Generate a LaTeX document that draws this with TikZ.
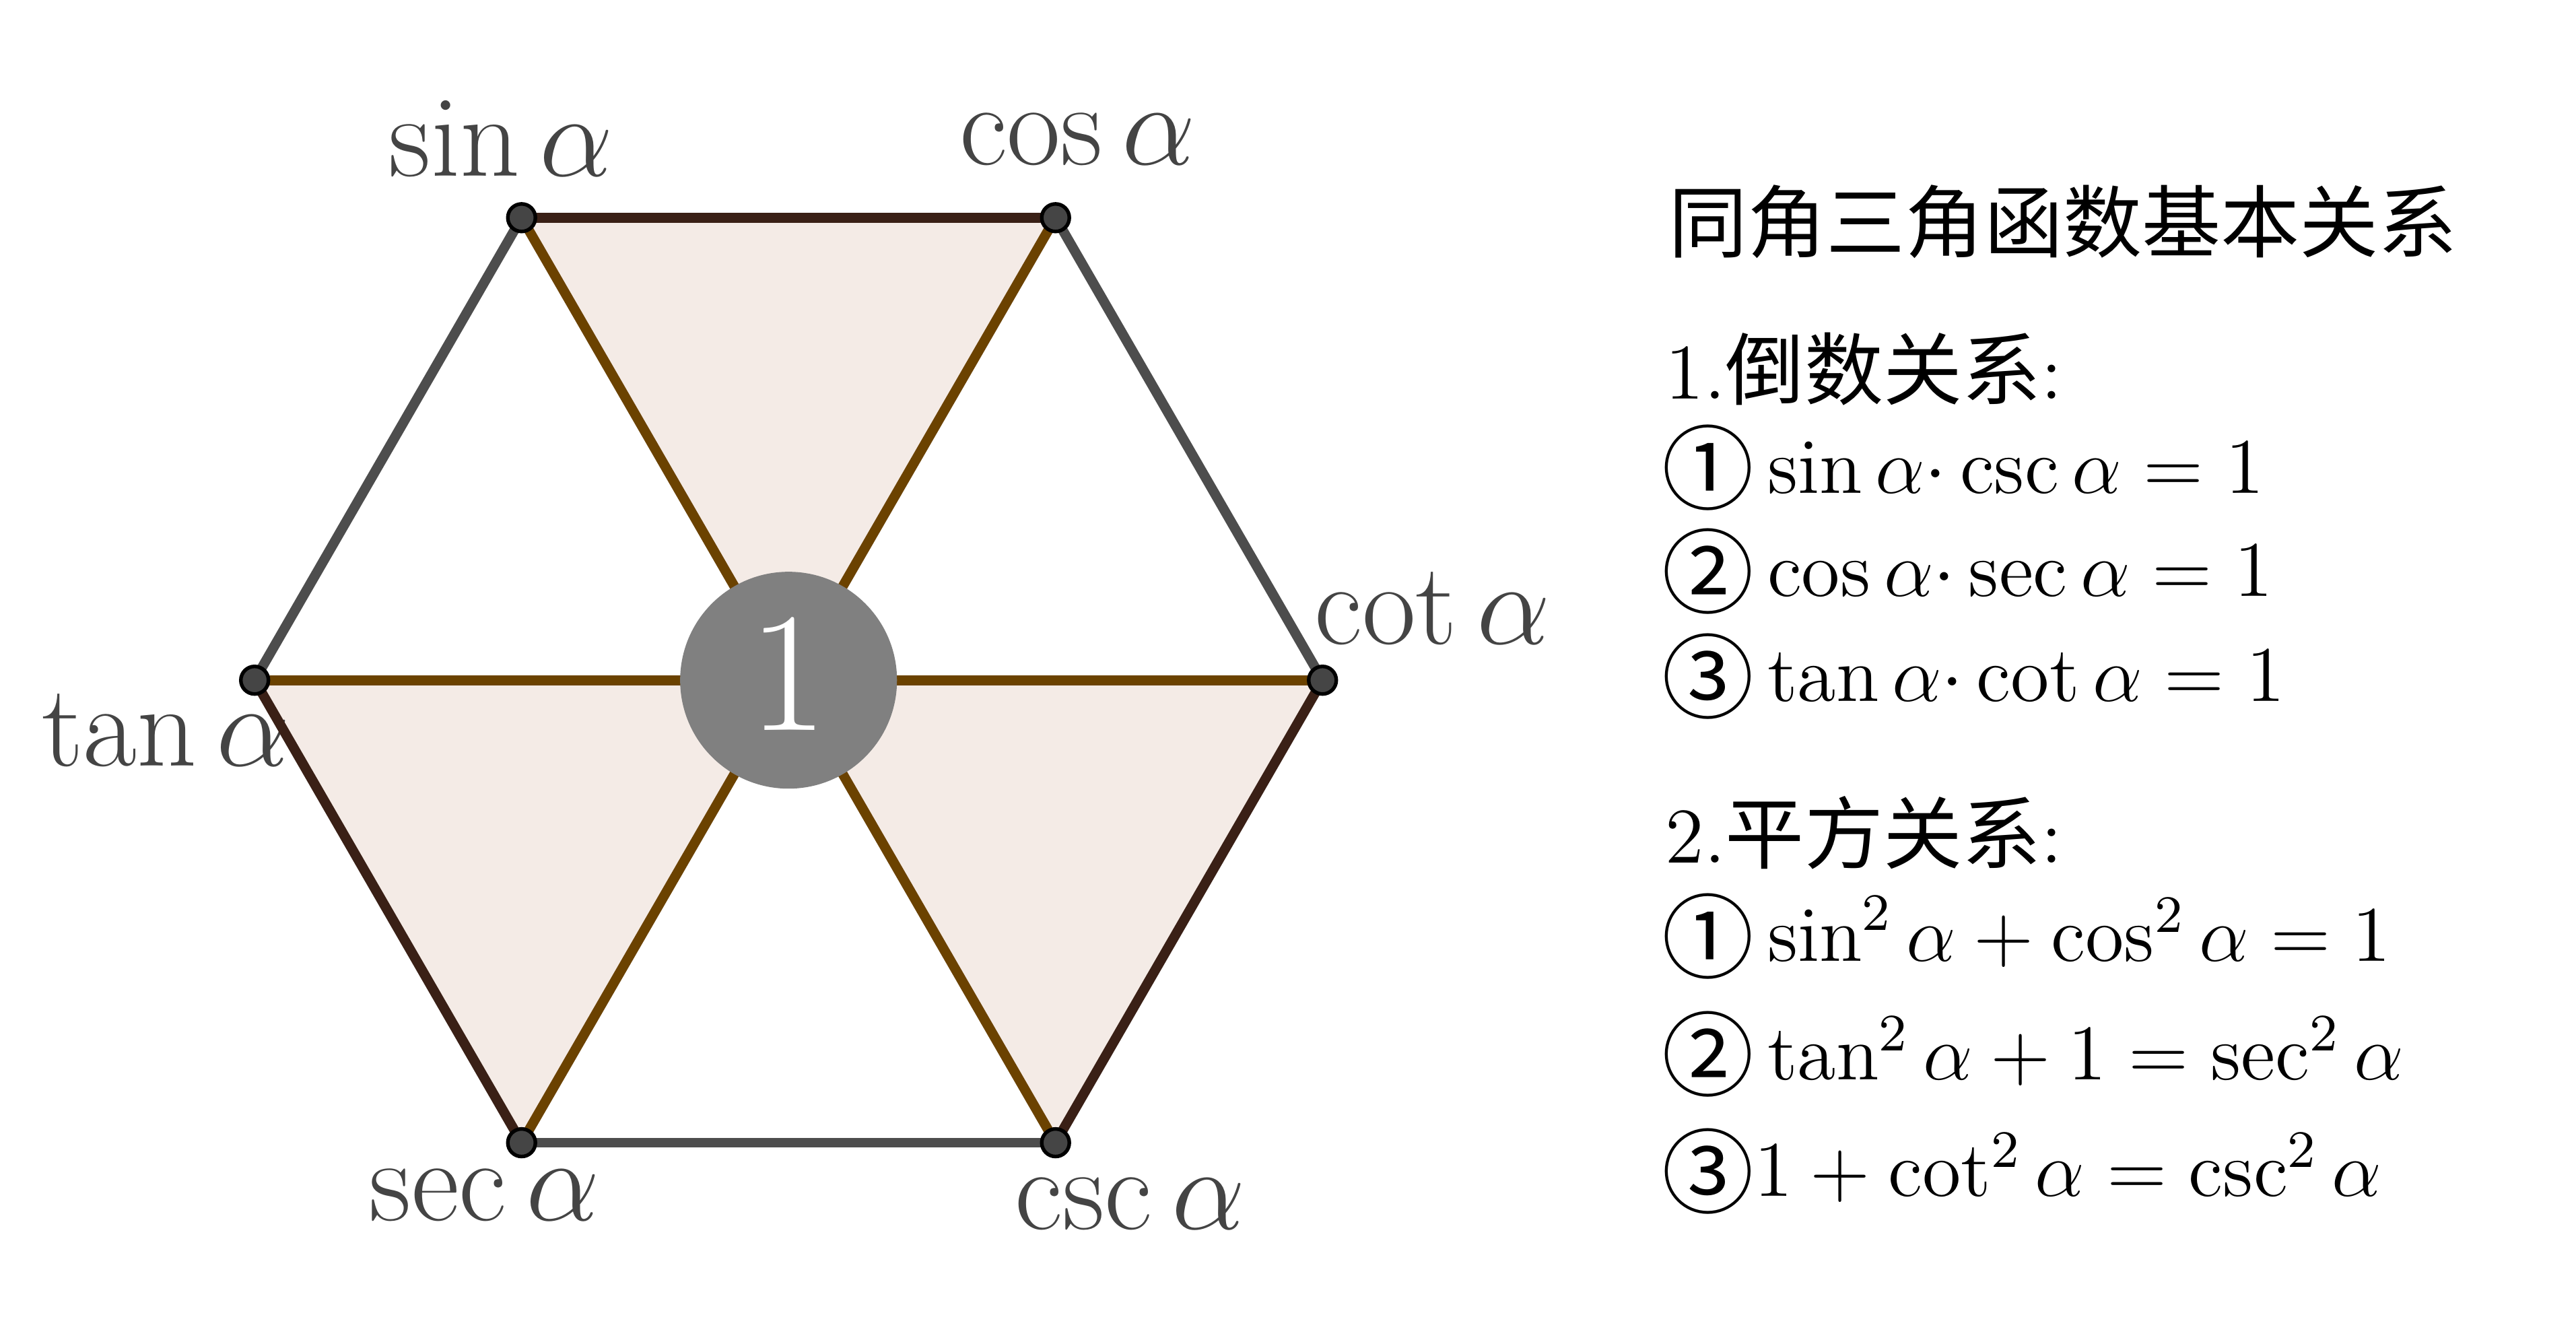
\RequirePackage{fix-cm}
\documentclass[tikz,border=0pt]{standalone}
\usepackage{amsmath}
\usepackage{fontspec}
\newfontfamily\cjk{Noto Sans CJK SC}
\usetikzlibrary{positioning}
\usepackage{xcolor}

\definecolor{triFill}{HTML}{F4EBE6}
\definecolor{spoke}{HTML}{6B4200}
\definecolor{darkEdge}{HTML}{3A2016}
\definecolor{grayEdge}{HTML}{4D4D4D}
\definecolor{ptFill}{HTML}{454545}
\definecolor{hub}{HTML}{808080}
\definecolor{lbl}{HTML}{444444}

\newcommand{\circnum}[1]{\raisebox{-1.5pt}{\cjk\fontsize{14}{14}\selectfont #1}}

\tikzset{
  fnlabel/.style={text=lbl, font=\fontsize{17.8}{20}\selectfont, anchor=base, inner sep=0pt},
  eqline/.style={anchor=base west, inner sep=0pt, font=\fontsize{12}{14}\selectfont},
  vertexdot/.style={fill=ptFill, draw=black, line width=0.55pt},
  edge/.style={line width=1.5pt},
}

\begin{document}
\begin{tikzpicture}[x=0.25pt,y=0.25pt]
\useasboundingbox[fill=white] (0,0) rectangle (1568,818);
% Hexagon corners
\coordinate (O) at (480,404);
\coordinate (cot) at (805,404);
\coordinate (cos) at (642.5,685.5);
\coordinate (sin) at (317.5,685.5);
\coordinate (tan) at (155,404);
\coordinate (sec) at (317.5,122.5);
\coordinate (csc) at (642.5,122.5);
% Shaded triangles
\fill[triFill] (sin) -- (cos) -- (O) -- cycle;
\fill[triFill] (tan) -- (sec) -- (O) -- cycle;
\fill[triFill] (cot) -- (csc) -- (O) -- cycle;
% Corner labels
\node[fnlabel] (sinlbl) at (305,711) {$\sin\alpha$};
\node[fnlabel] (coslbl) at (656,718) {$\cos\alpha$};
\node[fnlabel] (cotlbl) at (872,426) {$\cot\alpha$};
\node[fnlabel] (tanlbl) at (101,352) {$\tan\alpha$};
\node[fnlabel] (seclbl) at (295,75) {$\sec\alpha$};
\node[fnlabel] (csclbl) at (688,70) {$\csc\alpha$};
% Spokes to the centre
\foreach \v in {sin,cos,cot,csc,sec,tan}
  \draw[edge, spoke] (O) -- (\v);
% Outer edges
\draw[edge, grayEdge] (sin) -- (tan);
\draw[edge, grayEdge] (cos) -- (cot);
\draw[edge, grayEdge] (sec) -- (csc);
\draw[edge, darkEdge] (sin) -- (cos);
\draw[edge, darkEdge] (tan) -- (sec);
\draw[edge, darkEdge] (cot) -- (csc);
% Centre disc
\node[circle, fill=hub, minimum size=33pt, inner sep=0pt, text=white,
  font=\fontsize{26}{30}\selectfont] (one) at (O) {\raisebox{2pt}{1}};
% Corner points
\foreach \v in {sin,cos,cot,csc,sec,tan}
  \filldraw[vertexdot] (\v) circle (2.1pt);
% Text on the right
\node[eqline] (title) at (1015,665) {\cjk 同角三角函数基本关系};
\node[eqline] (recip) at (1013,575) {1.{\cjk 倒数关系}:};
\node[eqline] (r1) at (1011,518) {\circnum{①}\,$\sin\alpha{\cdot}\csc\alpha=1$};
\node[eqline] (r2) at (1011,455) {\circnum{②}\,$\cos\alpha{\cdot}\sec\alpha=1$};
\node[eqline] (r3) at (1011,391) {\circnum{③}\,$\tan\alpha{\cdot}\cot\alpha=1$};
\node[eqline] (square) at (1013,293) {2.{\cjk 平方关系}:};
\node[eqline] (s1) at (1011,233) {\circnum{①}\,$\sin^2\alpha+\cos^2\alpha=1$};
\node[eqline] (s2) at (1011,161) {\circnum{②}\,$\tan^2\alpha+1=\sec^2\alpha$};
\node[eqline] (s3) at (1011,90) {\circnum{③}$1+\cot^2\alpha=\csc^2\alpha$};
\end{tikzpicture}
\end{document}
